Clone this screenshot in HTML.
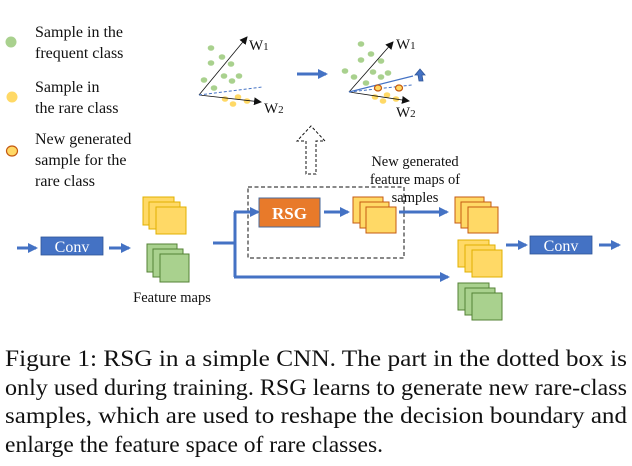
<!DOCTYPE html>
<html><head><meta charset="utf-8"><style>
html,body{margin:0;padding:0;background:#fff;}
svg{display:block;}
text{font-family:"Liberation Serif",serif;fill:#111;}
</style></head><body>
<svg width="632" height="466" viewBox="0 0 632 466" xmlns="http://www.w3.org/2000/svg">
<defs>
<marker id="ak" markerWidth="8" markerHeight="8" refX="7" refY="4" orient="auto" markerUnits="userSpaceOnUse"><path d="M0,0 L8,4 L0,8 Z" fill="#111"/></marker>
<marker id="ab" markerWidth="10" markerHeight="10" refX="8" refY="5" orient="auto" markerUnits="userSpaceOnUse"><path d="M0,0 L10,5 L0,10 Z" fill="#4472C4"/></marker>
</defs>
<!-- legend -->
<circle cx="11" cy="42" r="5.5" fill="#A9D18E"/>
<text x="35" y="37" font-size="16">Sample in the</text>
<text x="35" y="58" font-size="16">frequent class</text>
<circle cx="12" cy="97" r="5.5" fill="#FFD966"/>
<text x="35" y="92" font-size="16">Sample in</text>
<text x="35" y="113" font-size="16">the rare class</text>
<ellipse cx="12" cy="151" rx="5.5" ry="5" fill="#FFD966" stroke="#C55A11" stroke-width="1.2"/>
<text x="35" y="144" font-size="16">New generated</text>
<text x="35" y="165" font-size="16">sample for the</text>
<text x="35" y="186" font-size="16">rare class</text>

<!-- plot 1 -->
<g fill="#A9D18E">
<ellipse cx="211" cy="48" rx="3.3" ry="2.8"/><ellipse cx="222" cy="57" rx="3.3" ry="2.8"/><ellipse cx="211" cy="63" rx="3.3" ry="2.8"/><ellipse cx="231" cy="64" rx="3.3" ry="2.8"/><ellipse cx="224" cy="76" rx="3.3" ry="2.8"/><ellipse cx="232" cy="81" rx="3.3" ry="2.8"/><ellipse cx="239" cy="76" rx="3.3" ry="2.8"/><ellipse cx="204" cy="80" rx="3.3" ry="2.8"/><ellipse cx="214" cy="88" rx="3.3" ry="2.8"/>
</g>
<g fill="#FFD966"><ellipse cx="225" cy="99" rx="3.3" ry="2.8"/><ellipse cx="238" cy="97" rx="3.3" ry="2.8"/><ellipse cx="233" cy="104" rx="3.3" ry="2.8"/><ellipse cx="247" cy="101" rx="3.3" ry="2.8"/></g>
<line x1="199" y1="95" x2="247" y2="37" stroke="#111" stroke-width="0.8" marker-end="url(#ak)"/>
<line x1="199" y1="95" x2="261" y2="102" stroke="#111" stroke-width="0.8" marker-end="url(#ak)"/>
<line x1="199" y1="95" x2="262" y2="87" stroke="#4472C4" stroke-width="1" stroke-dasharray="3,2"/>
<text x="249" y="50" font-size="15">W<tspan font-size="11">1</tspan></text>
<text x="264" y="113" font-size="15">W<tspan font-size="11">2</tspan></text>

<line x1="297" y1="74" x2="326" y2="74" stroke="#4472C4" stroke-width="3" marker-end="url(#ab)"/>

<!-- plot 2 -->
<g fill="#A9D18E">
<ellipse cx="361" cy="44" rx="3.3" ry="2.8"/><ellipse cx="371" cy="54" rx="3.3" ry="2.8"/><ellipse cx="361" cy="60" rx="3.3" ry="2.8"/><ellipse cx="381" cy="61" rx="3.3" ry="2.8"/><ellipse cx="345" cy="71" rx="3.3" ry="2.8"/><ellipse cx="354" cy="77" rx="3.3" ry="2.8"/><ellipse cx="373" cy="72" rx="3.3" ry="2.8"/><ellipse cx="381" cy="77" rx="3.3" ry="2.8"/><ellipse cx="388" cy="73" rx="3.3" ry="2.8"/><ellipse cx="366" cy="83" rx="3.3" ry="2.8"/>
</g>
<g fill="#FFD966"><ellipse cx="375" cy="97" rx="3.3" ry="2.8"/><ellipse cx="387" cy="95" rx="3.3" ry="2.8"/><ellipse cx="396" cy="99" rx="3.3" ry="2.8"/><ellipse cx="383" cy="101" rx="3.3" ry="2.8"/></g>
<line x1="349" y1="92" x2="393" y2="42" stroke="#111" stroke-width="0.8" marker-end="url(#ak)"/>
<line x1="349" y1="92" x2="409" y2="101" stroke="#111" stroke-width="0.8" marker-end="url(#ak)"/>
<line x1="349" y1="92" x2="412" y2="85" stroke="#4472C4" stroke-width="1" stroke-dasharray="3,2"/>
<line x1="349" y1="92" x2="413" y2="76" stroke="#4472C4" stroke-width="1.2"/>
<g fill="#FFD966" stroke="#C55A11" stroke-width="1.2"><ellipse cx="378" cy="88" rx="3.5" ry="3"/><ellipse cx="399" cy="88" rx="3.5" ry="3"/></g>
<path d="M420,69 L425,75 L422,75 L423,81 L419,81 L418,75 L415,75 Z" fill="#4472C4" stroke="#2F5597" stroke-width="0.8"/>
<text x="396" y="49" font-size="15">W<tspan font-size="11">1</tspan></text>
<text x="396" y="117" font-size="15">W<tspan font-size="11">2</tspan></text>

<!-- hollow dashed up arrow -->
<path d="M306,174 L306,141 L297,141 L311,126 L325,141 L316,141 L316,174 Z" fill="none" stroke="#111" stroke-width="1" stroke-dasharray="3,2"/>

<text x="415" y="166" font-size="14.5" text-anchor="middle">New generated</text>
<text x="415" y="184" font-size="14.5" text-anchor="middle">feature maps of</text>
<text x="415" y="202" font-size="14.5" text-anchor="middle">samples</text>

<!-- dashed box -->
<rect x="248" y="187" width="156" height="71" fill="none" stroke="#111" stroke-width="1" stroke-dasharray="4,2.5"/>

<!-- left flow -->
<line x1="17" y1="248" x2="36" y2="248" stroke="#4472C4" stroke-width="3" marker-end="url(#ab)"/>
<rect x="41" y="237" width="62" height="18" fill="#4472C4" stroke="#2F5597" stroke-width="0.8"/>
<text x="72" y="252" font-size="16" text-anchor="middle" style="fill:#fff">Conv</text>
<line x1="109" y1="248" x2="129" y2="248" stroke="#4472C4" stroke-width="3" marker-end="url(#ab)"/>

<g fill="#FFD966" stroke="#E0B000" stroke-width="1">
<rect x="143" y="197" width="31" height="28"/><rect x="149" y="202" width="31" height="27"/><rect x="156" y="207" width="30" height="27"/>
</g>
<g fill="#A9D18E" stroke="#548235" stroke-width="1">
<rect x="147" y="244" width="30" height="28"/><rect x="153" y="249" width="30" height="28"/><rect x="160" y="254" width="29" height="28"/>
</g>
<text x="172" y="302" font-size="14.5" text-anchor="middle">Feature maps</text>

<!-- branch -->
<path d="M213,243 L235,243 M235,212 L235,277" stroke="#4472C4" stroke-width="3" fill="none"/>
<line x1="234" y1="212" x2="258" y2="212" stroke="#4472C4" stroke-width="3" marker-end="url(#ab)"/>
<line x1="234" y1="277" x2="448" y2="277" stroke="#4472C4" stroke-width="3" marker-end="url(#ab)"/>

<rect x="259" y="198" width="61" height="29" fill="#E87A2A" stroke="#4A6A9A" stroke-width="1"/>
<text x="289.5" y="219" font-size="17" font-weight="bold" text-anchor="middle" style="fill:#fff">RSG</text>
<line x1="324" y1="212" x2="348" y2="212" stroke="#4472C4" stroke-width="3" marker-end="url(#ab)"/>

<g fill="#FFD966" stroke="#C55A11" stroke-width="1">
<rect x="353" y="197" width="30" height="26"/><rect x="360" y="202" width="29" height="26"/><rect x="366" y="207" width="30" height="26"/>
</g>
<line x1="399" y1="212" x2="447" y2="212" stroke="#4472C4" stroke-width="3" marker-end="url(#ab)"/>

<g fill="#FFD966" stroke="#C55A11" stroke-width="1">
<rect x="455" y="197" width="29" height="26"/><rect x="461" y="202" width="30" height="26"/><rect x="468" y="207" width="30" height="26"/>
</g>
<g fill="#FFD966" stroke="#E0B000" stroke-width="1">
<rect x="458" y="240" width="31" height="27"/><rect x="465" y="245" width="30" height="27"/><rect x="472" y="250" width="30" height="27"/>
</g>
<g fill="#A9D18E" stroke="#548235" stroke-width="1">
<rect x="458" y="283" width="31" height="27"/><rect x="465" y="288" width="30" height="27"/><rect x="472" y="293" width="30" height="27"/>
</g>

<line x1="506" y1="245" x2="526" y2="245" stroke="#4472C4" stroke-width="3" marker-end="url(#ab)"/>
<rect x="530" y="236" width="62" height="18" fill="#4472C4" stroke="#2F5597" stroke-width="0.8"/>
<text x="561" y="251" font-size="16" text-anchor="middle" style="fill:#fff">Conv</text>
<line x1="599" y1="245" x2="619" y2="245" stroke="#4472C4" stroke-width="3" marker-end="url(#ab)"/>

<!-- caption -->
<text x="5" y="366" font-size="23" textLength="622" lengthAdjust="spacingAndGlyphs">Figure 1:  RSG in a simple CNN. The part in the dotted box is</text>
<text x="5" y="395" font-size="23" textLength="622" lengthAdjust="spacingAndGlyphs">only used during training. RSG learns to generate new rare-class</text>
<text x="5" y="423" font-size="23" textLength="622" lengthAdjust="spacingAndGlyphs">samples, which are used to reshape the decision boundary and</text>
<text x="5" y="452" font-size="23" textLength="378" lengthAdjust="spacingAndGlyphs">enlarge the feature space of rare classes.</text>
</svg>
</body></html>
